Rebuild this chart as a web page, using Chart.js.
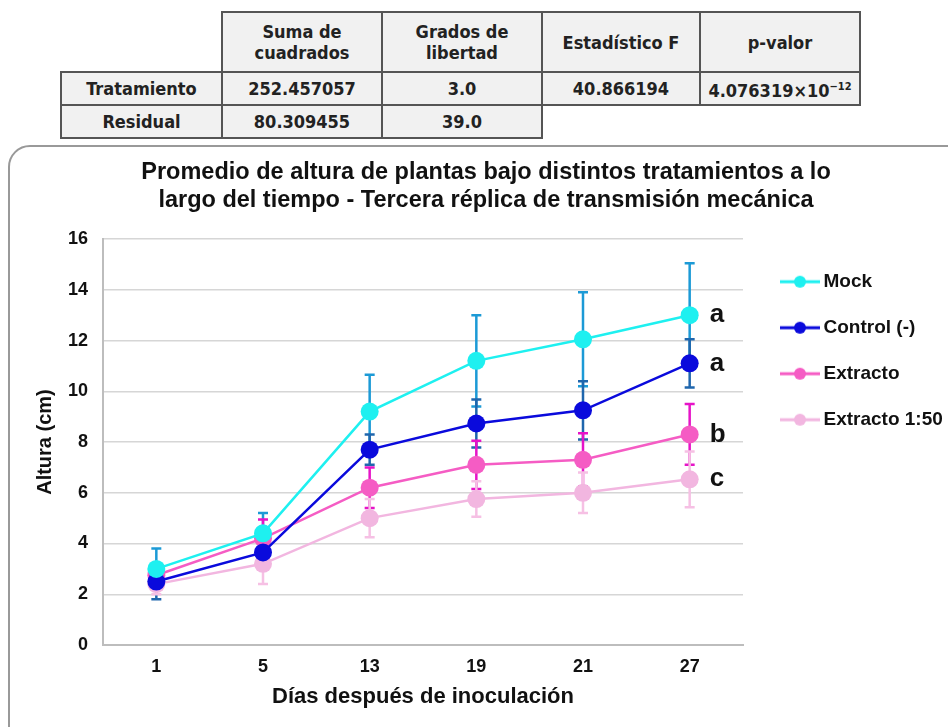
<!DOCTYPE html>
<html>
<head>
<meta charset="utf-8">
<script src="https://cdn.jsdelivr.net/npm/chart.js@4/dist/chart.umd.min.js"></script>
<style>
    html, body { margin:0; padding:0; background:#fff; }
    body { width:948px; height:727px; position:relative; overflow:hidden; }
    .anova { position:absolute; left:60px; top:11px; border-collapse:collapse;
        font-family:'Liberation Sans Narrow','DejaVu Sans Condensed',sans-serif; font-weight:bold; font-size:18px; color:#222; }
    .anova td { border:2px solid #555; background:#f1f1f1; text-align:center; padding:0; line-height:21px; }
    .anova td.blank { border:none; background:transparent; }
    .box { position:absolute; left:8px; top:145px; width:960px; height:640px; border:2px solid #999; border-radius:22px; }
    #chart { position:absolute; left:0; top:0; }
</style>
</head>
<body>
<table class="anova">
    <tr style="height:60px">
        <td class="blank" style="width:160px"></td>
        <td style="width:158px">Suma de<br>cuadrados</td>
        <td style="width:158px">Grados de<br>libertad</td>
        <td style="width:156px">Estadístico F</td>
        <td style="width:158px">p-valor</td>
    </tr>
    <tr style="height:33px">
        <td>Tratamiento</td><td>252.457057</td><td>3.0</td><td>40.866194</td><td>4.076319×10<sup style="font-size:11px">−12</sup></td>
    </tr>
    <tr style="height:33px">
        <td>Residual</td><td>80.309455</td><td>39.0</td><td class="blank"></td><td class="blank"></td>
    </tr>
</table>
<div class="box"></div>
<canvas id="chart" width="948" height="727"></canvas>
<script>
// datos
let days = ["1", "5", "13", "19", "21", "27"];
let seriesNames = ["Mock", "Control (-)", "Extracto", "Extracto 1:50"];
let mock = [3.0, 4.4, 9.2, 11.2, 12.05, 13.0];
let mockErr = [0.8, 0.8, 1.45, 1.8, 1.85, 2.05];
let control = [2.5, 3.65, 7.7, 8.73, 9.25, 11.1];
let controlErr = [0.7, 0.5, 0.6, 0.95, 1.15, 0.95];
let extracto = [2.75, 4.2, 6.2, 7.1, 7.3, 8.3];
let extractoErr = [0.3, 0.75, 0.8, 0.95, 1.05, 1.2];
let extracto150 = [2.4, 3.2, 5.0, 5.75, 6.0, 6.53];
let extracto150Err = [0.4, 0.8, 0.75, 0.7, 0.8, 1.1];
let groupLetters = ["a", "a", "b", "c"];
let yTicks = [0, 2, 4, 6, 8, 10, 12, 14, 16];

let colors = ["#1ef0f0", "#0a0adc", "#f55cc4", "#f2b6e0"];
let errColors = ["#1c9ad6", "#1f66ad", "#e614c8", "#f6c0e4"];
let values = [mock, control, extracto, extracto150];
let errors = [mockErr, controlErr, extractoErr, extracto150Err];

let font = "'Liberation Sans', Arial, sans-serif";

let legendIcon = (color)=>{
    let c = document.createElement("canvas");
    c.width = 60; c.height = 20;
    let g = c.getContext("2d");
    g.strokeStyle = color; g.lineWidth = 3;
    g.beginPath(); g.moveTo(18, 10); g.lineTo(58, 10); g.stroke();
    g.fillStyle = color;
    g.beginPath(); g.arc(38, 10, 6, 0, Math.PI*2); g.fill();
    return c;
};

let errorBars = {
    id: "errorBars",
    beforeDatasetsDraw: (chart)=>{
        let ctx = chart.ctx;
        let yScale = chart.scales.y;
        ctx.save();
        ctx.lineWidth = 2.5;
        chart.data.datasets.forEach((ds, i)=>{
            let meta = chart.getDatasetMeta(i);
            ctx.strokeStyle = errColors[i];
            meta.data.forEach((pt, j)=>{
                let hi = yScale.getPixelForValue(values[i][j] + errors[i][j]);
                let lo = yScale.getPixelForValue(values[i][j] - errors[i][j]);
                ctx.beginPath();
                ctx.moveTo(pt.x, hi); ctx.lineTo(pt.x, lo);
                ctx.moveTo(pt.x-5, hi); ctx.lineTo(pt.x+5, hi);
                ctx.moveTo(pt.x-5, lo); ctx.lineTo(pt.x+5, lo);
                ctx.stroke();
            });
        });
        ctx.restore();
    },
    afterDatasetsDraw: (chart)=>{
        let ctx = chart.ctx;
        ctx.save();
        ctx.font = `bold 26px ${font}`;
        ctx.fillStyle = "#111";
        ctx.textBaseline = "middle";
        chart.data.datasets.forEach((ds, i)=>{
            let meta = chart.getDatasetMeta(i);
            let last = meta.data[meta.data.length-1];
            ctx.fillText(groupLetters[i], last.x + 20, last.y);
        });
        ctx.restore();
    }
};

new Chart(document.getElementById("chart"), {
    type: "line",
    data: {
        labels: days,
        datasets: seriesNames.map((name, i)=>({
            label: name,
            data: values[i],
            borderColor: colors[i],
            backgroundColor: colors[i],
            borderWidth: 2.5,
            pointRadius: 9,
            pointHoverRadius: 9,
            pointBorderWidth: 0,
            tension: 0,
        })),
    },
    plugins: [errorBars],
    options: {
        responsive: false,
        animation: false,
        events: [],
        layout: { padding: { left: 24, right: 0, top: 150, bottom: 13 } },
        plugins: {
            title: {
                display: true,
                text: ["Promedio de altura de plantas bajo distintos tratamientos a lo", "largo del tiempo - Tercera réplica de transmisión mecánica"],
                font: { size: 23.5, weight: "bold", family: font, lineHeight: 1.15 },
                color: "#111",
                padding: { top: 9.5, bottom: 25.5 },
            },
            legend: {
                position: "right",
                align: "start",
                fullSize: false,
                maxWidth: 205,
                title: { display: true, text: " ", font: { size: 1 }, padding: { top: 0, bottom: 5 } },
                labels: {
                    usePointStyle: true,
                    pointStyleWidth: 44,
                    padding: 27,
                    color: "#111",
                    font: { size: 19, weight: "bold", family: font },
                    generateLabels: (chart)=>chart.data.datasets.map((ds, i)=>({
                        text: ds.label,
                        pointStyle: legendIcon(colors[i]),
                        fillStyle: colors[i],
                        strokeStyle: colors[i],
                        fontColor: "#111",
                        lineWidth: 0,
                        datasetIndex: i,
                    })),
                },
            },
            tooltip: { enabled: false },
        },
        scales: {
            x: {
                offset: true,
                grid: { display: false, drawTicks: false },
                border: { color: "#bdbdbd", width: 2 },
                ticks: { color: "#111", padding: 11, font: { size: 18, weight: "bold", family: font } },
                title: {
                    display: true,
                    text: "Días después de inoculación",
                    color: "#111",
                    font: { size: 22, weight: "bold", family: font },
                    padding: { top: 4, bottom: 4 },
                },
                afterFit: (axis)=>{ axis.height = 69; },
            },
            y: {
                min: 0,
                max: 16,
                afterBuildTicks: (axis)=>{ axis.ticks = yTicks.map(v=>({ value: v })); },
                grid: { color: "#d6d6d6", lineWidth: 1.5, drawTicks: false },
                border: { color: "#bdbdbd", width: 2 },
                ticks: { color: "#111", padding: 15, font: { size: 18, weight: "bold", family: font } },
                title: {
                    display: true,
                    text: "Altura (cm)",
                    color: "#111",
                    font: { size: 20, weight: "bold", family: font },
                    padding: { top: 9, bottom: 6 },
                },
                afterFit: (axis)=>{ axis.width = 79; },
            },
        },
    },
});
</script>
</body>
</html>
